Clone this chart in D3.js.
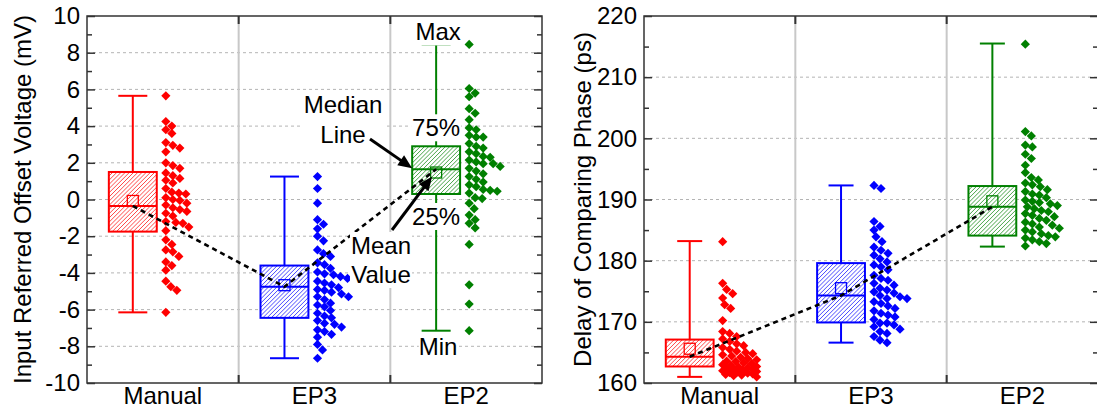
<!DOCTYPE html>
<html>
<head>
<meta charset="utf-8">
<script src="https://cdn.jsdelivr.net/npm/d3@7"></script>
<style>
  body { margin: 0; background: #fff; }
  svg { display: block; }
  text { font-family: "Liberation Sans", Arial, sans-serif; }
</style>
</head>
<body>
<svg id="chart" width="1097" height="408"></svg>
<script>
// ---------- data ----------
const categories = ["Manual", "EP3", "EP2"];
const colors = ["#ff0000", "#0000ff", "#008000"];

// Input referred offset voltage (mV)
const offsetManual = [5.65, 4.25, 4.0, 3.8, 3.6, 3.1, 2.95, 2.8, 2.6, 2.0, 1.85, 1.7, 1.45, 1.3, 1.15, 1.05,
  0.9, 0.6, 0.4, 0.35, 0.3, 0.1, 0.0, -0.05, -0.2, -0.3, -0.45, -0.55, -0.65, -0.75, -0.9, -1.2,
  -1.25, -1.3, -1.5, -1.7, -2.2, -2.45, -2.75, -2.85, -3.1, -3.4, -3.6, -3.85, -4.45, -4.75, -4.95, -6.15];
const offsetEP3 = [1.25, 0.6, -0.2, -1.1, -1.35, -1.6, -2.0, -2.25, -2.75, -2.95, -3.1, -3.45, -3.55, -3.75,
  -3.95, -4.05, -4.1, -4.2, -4.3, -4.45, -4.55, -4.65, -4.8, -4.9, -4.95, -5.05, -5.15, -5.3, -5.3, -5.45,
  -5.65, -5.75, -5.85, -6.05, -6.2, -6.35, -6.45, -6.6, -6.75, -6.8, -6.95, -7.1, -7.2, -7.35, -7.5, -7.9, -8.2, -8.65];
const offsetEP2 = [8.45, 6.05, 5.8, 5.6, 4.95, 4.7, 4.35, 3.9, 3.8, 3.5, 3.4, 3.4, 3.05, 2.9, 2.8, 2.6, 2.5,
  2.35, 2.3, 2.15, 2.05, 1.95, 1.95, 1.8, 1.7, 1.55, 1.4, 1.25, 1.1, 0.95, 0.8, 0.7, 0.55, 0.5, 0.45, 0.35,
  0.1, 0.05, -0.2, -0.5, -0.85, -1.1, -1.3, -1.55, -2.45, -4.65, -5.7, -7.15];
// [min, q1, median, q3, max, mean]
const offsetStats = [
  [-6.15, -1.75, -0.35, 1.5, 5.65, -0.08],
  [-8.65, -6.45, -4.75, -3.6, 1.25, -4.67],
  [-7.15, 0.3, 1.65, 2.9, 8.45, 1.47]
];
const offsetTicks = [-10, -8, -6, -4, -2, 0, 2, 4, 6, 8, 10];

// Delay of comparing phase (ps)
const delayManual = [183.1, 176.3, 175.3, 174.6, 173.9, 172.8, 172.2, 170.2, 168.4, 168.1, 167.6, 167.2, 166.8,
  166.4, 166.1, 165.8, 165.5, 165.2, 165.0, 164.8, 164.6, 164.4, 164.2, 164.0, 163.8, 163.6, 163.5, 163.3,
  163.2, 163.0, 162.9, 162.7, 162.6, 162.5, 162.4, 162.3, 162.2, 162.1, 162.0, 161.9, 161.8, 161.7, 161.6,
  161.5, 161.4, 161.3, 161.2, 161.0];
const delayEP3 = [192.3, 191.8, 186.4, 185.6, 185.0, 183.9, 183.1, 182.2, 181.7, 181.2, 180.9, 180.3, 179.8,
  179.3, 179.0, 178.5, 177.6, 177.1, 176.8, 176.3, 176.0, 175.5, 175.2, 174.9, 174.7, 174.3, 174.1, 173.8,
  173.8, 173.3, 173.0, 172.6, 172.2, 171.8, 171.4, 171.1, 170.8, 170.4, 169.8, 169.8, 169.5, 169.2, 168.8,
  168.4, 168.1, 167.6, 167.0, 166.6];
const delayEP2 = [215.4, 201.1, 200.4, 198.9, 198.6, 197.4, 196.7, 195.6, 194.4, 193.6, 193.2, 192.7, 192.4,
  192.1, 191.6, 191.3, 190.9, 190.7, 190.3, 189.9, 189.7, 189.5, 189.3, 189.0, 188.8, 188.5, 188.2, 188.0,
  187.7, 187.4, 187.2, 186.9, 186.6, 186.3, 186.0, 185.8, 185.5, 185.3, 185.0, 184.7, 184.4, 184.1, 183.9,
  183.7, 183.4, 183.1, 182.8, 182.4];
const delayStats = [
  [161.0, 162.7, 164.3, 167.1, 183.2, 165.6],
  [166.6, 169.9, 174.3, 179.6, 192.3, 175.5],
  [182.3, 184.1, 188.8, 192.2, 215.5, 189.7]
];
const delayTicks = [160, 170, 180, 190, 200, 210, 220];

// ---------- drawing ----------
const FONT = 24;
const svg = d3.select("#chart");
const defs = svg.append("defs");
let clipId = 0;

// left-aligned swarm so that dense groups spread sideways
function swarm(values, y, x0, maxW, minD) {
  const placed = [];
  return values.map(v => {
    const py = y(v);
    let best = x0, bestScore = -1;
    for (let dx = 0; dx <= maxW; dx += 1) {
      let md = Infinity;
      for (const p of placed) {
        const d = Math.hypot(p[0] - (x0 + dx), p[1] - py);
        if (d < md) md = d;
      }
      if (md >= minD) { best = x0 + dx; break; }
      if (md > bestScore) { bestScore = md; best = x0 + dx; }
    }
    placed.push([best, py]);
    return { x: best, y: py };
  });
}

// diagonal "////" hatch clipped to a rectangle
function hatch(parent, x0, y0, w, h, color) {
  const id = "boxclip" + (clipId++);
  defs.append("clipPath").attr("id", id)
    .append("rect").attr("x", x0).attr("y", y0).attr("width", w).attr("height", h);
  const hg = parent.append("g").attr("clip-path", `url(#${id})`);
  const step = 4.2;
  const starts = d3.range(x0 - h, x0 + w + step, step);
  hg.selectAll("line").data(starts).join("line")
    .attr("x1", s => s).attr("y1", y0 + h)
    .attr("x2", s => s + h).attr("y2", y0)
    .attr("stroke", color).attr("stroke-width", 0.9).attr("opacity", 0.8);
}

function drawPanel(cfg) {
  const x = d3.scaleBand().domain(categories).range([cfg.left, cfg.right]);
  const y = d3.scaleLinear().domain([cfg.ticks[0], cfg.ticks[cfg.ticks.length - 1]])
    .range([cfg.bottom, cfg.top]);
  const bw = x.bandwidth();
  const g = svg.append("g");

  // horizontal grid
  g.append("g").selectAll("line").data(cfg.ticks.slice(1, -1)).join("line")
    .attr("x1", cfg.left).attr("x2", cfg.right)
    .attr("y1", d => y(d)).attr("y2", d => y(d))
    .attr("stroke", "#b4b4b4").attr("stroke-width", 1).attr("stroke-dasharray", "3,3");

  // category separators
  const seps = categories.slice(1).map(c => x(c));
  g.append("g").selectAll("line").data(seps).join("line")
    .attr("x1", d => d).attr("x2", d => d)
    .attr("y1", cfg.top).attr("y2", cfg.bottom)
    .attr("stroke", "#c8c8c8").attr("stroke-width", 2);

  const geo = categories.map((c, i) => {
    const center = x(c) + bw / 2;
    const bx = center - bw * 0.198;
    return { center, bx, boxW: bw * 0.316, s: cfg.stats[i] };
  });

  // boxes
  geo.forEach((d, i) => {
    const [mn, q1, md, q3, mx, mean] = d.s;
    const bg = g.append("g").attr("stroke", colors[i]).attr("stroke-width", 2).attr("fill", "none");
    bg.append("line").attr("x1", d.bx).attr("x2", d.bx).attr("y1", y(mx)).attr("y2", y(q3));
    bg.append("line").attr("x1", d.bx).attr("x2", d.bx).attr("y1", y(q1)).attr("y2", y(mn));
    bg.append("line").attr("x1", d.bx - cfg.capW / 2).attr("x2", d.bx + cfg.capW / 2).attr("y1", y(mx)).attr("y2", y(mx));
    bg.append("line").attr("x1", d.bx - cfg.capW / 2).attr("x2", d.bx + cfg.capW / 2).attr("y1", y(mn)).attr("y2", y(mn));
    const rx = d.bx - d.boxW / 2, ry = y(q3), rh = y(q1) - y(q3);
    bg.append("rect").attr("x", rx).attr("y", ry)
      .attr("width", d.boxW).attr("height", rh).attr("fill", "#fff").attr("stroke", "none");
    hatch(bg, rx, ry, d.boxW, rh, colors[i]);
    bg.append("rect").attr("x", rx).attr("y", ry).attr("width", d.boxW).attr("height", rh);
    bg.append("line").attr("x1", rx).attr("x2", rx + d.boxW).attr("y1", y(md)).attr("y2", y(md));
    const sq = 11;
    bg.append("rect").attr("x", d.bx - sq / 2).attr("y", y(mean) - sq / 2)
      .attr("width", sq).attr("height", sq).attr("stroke-width", 1.3);
  });

  // data points
  const r = 4.6;
  const diamond = `M0,${-r}L${r},0L0,${r}L${-r},0Z`;
  cfg.series.forEach((vals, i) => {
    const pts = swarm(vals, y, geo[i].center + 3, 34, 7);
    g.append("g").selectAll("path").data(pts).join("path")
      .attr("d", diamond)
      .attr("transform", p => `translate(${p.x},${p.y})`)
      .attr("fill", colors[i]);
  });

  // median trend line
  g.append("path")
    .datum(geo)
    .attr("d", d3.line().x(d => d.bx).y(d => y(d.s[2])))
    .attr("fill", "none").attr("stroke", "#000").attr("stroke-width", 2.6)
    .attr("stroke-dasharray", "5,4");

  // frame
  g.append("rect").attr("x", cfg.left).attr("y", cfg.top)
    .attr("width", cfg.right - cfg.left).attr("height", cfg.bottom - cfg.top)
    .attr("fill", "none").attr("stroke", "#333").attr("stroke-width", 1.5);

  // y axes (ticks inside)
  const styleAxis = sel => {
    sel.select(".domain").remove();
    sel.selectAll(".tick line").attr("stroke", "#333").attr("stroke-width", 1.5);
    sel.selectAll("text").attr("font-size", FONT).attr("fill", "#000")
      .attr("font-family", "'Liberation Sans', Arial, sans-serif");
  };
  g.append("g").attr("transform", `translate(${cfg.left},0)`)
    .call(d3.axisLeft(y).tickValues(cfg.ticks).tickSize(-8).tickPadding(7).tickFormat(d => String(d)))
    .call(styleAxis);
  g.append("g").attr("transform", `translate(${cfg.left},0)`)
    .call(d3.axisLeft(y).tickValues(cfg.minor).tickSize(-5).tickFormat(""))
    .call(styleAxis);
  g.append("g").attr("transform", `translate(${cfg.right},0)`)
    .call(d3.axisRight(y).tickValues(cfg.ticks).tickSize(-8).tickFormat(""))
    .call(styleAxis);
  g.append("g").attr("transform", `translate(${cfg.right},0)`)
    .call(d3.axisRight(y).tickValues(cfg.minor).tickSize(-5).tickFormat(""))
    .call(styleAxis);

  // x ticks at the separators, top and bottom
  g.append("g").selectAll("line").data(seps.flatMap(s => [[s, cfg.top, cfg.top + 8], [s, cfg.bottom, cfg.bottom - 8]]))
    .join("line")
    .attr("x1", d => d[0]).attr("x2", d => d[0]).attr("y1", d => d[1]).attr("y2", d => d[2])
    .attr("stroke", "#333").attr("stroke-width", 2);

  // category labels
  g.append("g").selectAll("text").data(categories).join("text")
    .attr("x", c => x(c) + bw / 2).attr("y", 404)
    .attr("text-anchor", "middle").attr("font-size", FONT).text(c => c);

  // y title
  g.append("text")
    .attr("transform", `translate(${cfg.titleX},${(cfg.top + cfg.bottom) / 2}) rotate(-90)`)
    .attr("text-anchor", "middle").attr("dominant-baseline", "central")
    .attr("font-size", FONT).text(cfg.title);

  return { x, y, geo };
}

const left = drawPanel({
  left: 87, right: 542, top: 16, bottom: 383,
  ticks: offsetTicks, minor: d3.range(-9, 10, 2),
  series: [offsetManual, offsetEP3, offsetEP2], stats: offsetStats,
  capW: 29, titleX: 22, title: "Input Referred Offset Voltage (mV)"
});

drawPanel({
  left: 644, right: 1098, top: 16, bottom: 383,
  ticks: delayTicks, minor: d3.range(165, 220, 10),
  series: [delayManual, delayEP3, delayEP2], stats: delayStats,
  capW: 25, titleX: 582, title: "Delay of Comparing Phase (ps)"
});

// ---------- annotations on the EP2 box of the offset panel ----------
const ann = svg.append("g").attr("font-size", FONT);
const ep2 = left.geo[2];
const ly = left.y;
const [mn2, q12, md2, q32, mx2, mean2] = ep2.s;

function label(lines, cx, baseline, lineH, pad) {
  const grp = ann.append("g");
  const bg = grp.append("rect").attr("fill", "#fff");
  const t = grp.append("text").attr("text-anchor", "middle");
  lines.forEach((s, k) => t.append("tspan").attr("x", cx).attr("y", baseline + k * lineH).text(s));
  const b = t.node().getBBox();
  bg.attr("x", b.x - pad).attr("y", b.y).attr("width", b.width + 2 * pad).attr("height", b.height);
  return grp;
}
function arrow(x1, y1, x2, y2) {
  const a = Math.atan2(y2 - y1, x2 - x1);
  const L = 14, Wd = 6;
  const bx = x2 - L * Math.cos(a), by = y2 - L * Math.sin(a);
  ann.append("line").attr("x1", x1).attr("y1", y1).attr("x2", bx + 2 * Math.cos(a)).attr("y2", by + 2 * Math.sin(a))
    .attr("stroke", "#000").attr("stroke-width", 3);
  ann.append("path")
    .attr("d", `M${x2},${y2}L${bx - Wd * Math.sin(a)},${by + Wd * Math.cos(a)}L${bx + Wd * Math.sin(a)},${by - Wd * Math.cos(a)}Z`)
    .attr("fill", "#000");
}

label(["Max"], ep2.bx + 2, ly(mx2) - 4, 0, 0);
label(["75%"], ep2.bx, ly(q32) - 10, 0, 1);
label(["25%"], ep2.bx, ly(q12) + 31, 0, 1);
label(["Min"], ep2.bx + 2, ly(mn2) + 24, 0, 0);
label(["Median", "Line"], 343, 113, 30, 2);
label(["Mean", "Value"], 381, 254, 29, 1);

arrow(370, 139, ep2.bx - ep2.boxW / 2, ly(md2) - 1);
arrow(392, 230, ep2.bx - 4, ly(mean2) + 4);
</script>
</body>
</html>
